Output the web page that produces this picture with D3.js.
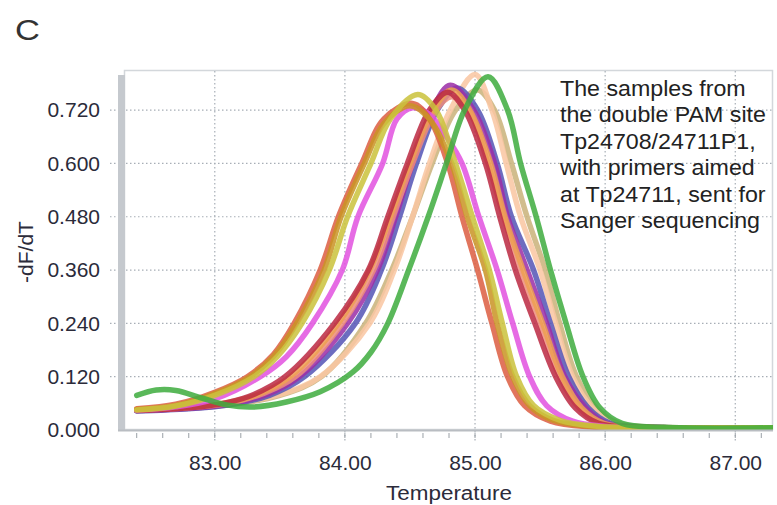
<!DOCTYPE html>
<html>
<head>
<meta charset="utf-8">
<script src="https://cdn.jsdelivr.net/npm/d3@7"></script>
<style>
  body { margin: 0; background: #fff; }
  svg { display: block; }
  text { font-family: "Liberation Sans", Arial, sans-serif; }
</style>
</head>
<body>
<svg id="chart" width="777" height="505"></svg>
<script>
// tick labels
var tempTicks = [83, 84, 85, 86, 87];
var dfTicks = [0, 0.12, 0.24, 0.36, 0.48, 0.6, 0.72];
var noteLines = ["The samples from", "the double PAM site", "Tp24708/24711P1,",
  "with primers aimed", "at Tp24711, sent for", "Sanger sequencing"];

// melt curves: [temperature, -dF/dT]
var tan = [[82.40,0.045],[82.80,0.049],[83.10,0.056],[83.50,0.078],[83.82,0.12],[84.16,0.24],[84.36,0.36],[84.52,0.48],[84.67,0.60],[84.85,0.72],[85.02,0.765],[85.15,0.72],[85.28,0.60],[85.40,0.48],[85.54,0.36],[85.65,0.24],[85.78,0.12],[85.93,0.05],[86.10,0.015],[86.45,0.006],[87.30,0.005]];
var peach = [[82.40,0.046],[82.80,0.050],[83.10,0.058],[83.50,0.080],[83.81,0.12],[84.19,0.24],[84.38,0.36],[84.52,0.48],[84.65,0.60],[84.81,0.72],[85.00,0.80],[85.13,0.72],[85.24,0.60],[85.35,0.48],[85.50,0.36],[85.62,0.24],[85.75,0.12],[85.90,0.05],[86.07,0.015],[86.40,0.006],[87.30,0.005]];
var blue = [[82.40,0.043],[82.80,0.048],[83.10,0.056],[83.42,0.078],[83.69,0.12],[84.08,0.24],[84.28,0.36],[84.42,0.48],[84.55,0.60],[84.71,0.72],[84.86,0.77],[85.02,0.72],[85.17,0.60],[85.28,0.48],[85.45,0.36],[85.58,0.24],[85.72,0.12],[85.87,0.05],[86.04,0.015],[86.40,0.006],[87.30,0.005]];
var purple = [[82.40,0.044],[82.80,0.049],[83.10,0.058],[83.40,0.080],[83.65,0.12],[84.02,0.24],[84.25,0.36],[84.39,0.48],[84.52,0.60],[84.67,0.72],[84.81,0.776],[84.99,0.72],[85.15,0.60],[85.25,0.48],[85.40,0.36],[85.55,0.24],[85.69,0.12],[85.85,0.05],[86.01,0.015],[86.35,0.006],[87.30,0.005]];
var salmon = [[82.40,0.045],[82.80,0.050],[83.10,0.060],[83.38,0.083],[83.62,0.12],[83.98,0.24],[84.22,0.36],[84.37,0.48],[84.52,0.60],[84.70,0.72],[84.82,0.75],[84.95,0.72],[85.10,0.60],[85.22,0.48],[85.35,0.36],[85.50,0.24],[85.65,0.12],[85.80,0.05],[85.96,0.015],[86.30,0.006],[87.30,0.005]];
var orange = [[82.40,0.046],[82.80,0.051],[83.10,0.062],[83.35,0.082],[83.58,0.12],[83.95,0.24],[84.19,0.36],[84.35,0.48],[84.50,0.60],[84.68,0.72],[84.82,0.765],[84.96,0.72],[85.12,0.60],[85.23,0.48],[85.37,0.36],[85.52,0.24],[85.67,0.12],[85.82,0.05],[85.99,0.015],[86.35,0.006],[87.30,0.005]];
var crimson = [[82.40,0.044],[82.80,0.050],[83.10,0.062],[83.30,0.080],[83.54,0.12],[83.92,0.24],[84.18,0.36],[84.33,0.48],[84.48,0.60],[84.65,0.72],[84.79,0.76],[84.92,0.72],[85.08,0.60],[85.19,0.48],[85.31,0.36],[85.46,0.24],[85.62,0.12],[85.77,0.05],[85.95,0.015],[86.30,0.006],[87.30,0.005]];
var magenta = [[82.40,0.045],[82.70,0.052],[83.00,0.070],[83.35,0.12],[83.55,0.165],[83.75,0.24],[83.98,0.36],[84.10,0.48],[84.29,0.60],[84.40,0.70],[84.52,0.725],[84.65,0.71],[84.78,0.66],[84.90,0.60],[85.03,0.48],[85.17,0.36],[85.29,0.24],[85.42,0.12],[85.55,0.055],[85.75,0.02],[86.00,0.008],[86.40,0.005],[87.30,0.005]];
var redorange = [[82.40,0.048],[82.70,0.058],[83.00,0.085],[83.25,0.12],[83.45,0.17],[83.61,0.24],[83.81,0.36],[83.95,0.48],[84.13,0.60],[84.30,0.70],[84.52,0.735],[84.65,0.70],[84.79,0.60],[84.90,0.48],[85.02,0.36],[85.13,0.24],[85.25,0.12],[85.38,0.055],[85.58,0.02],[85.90,0.007],[86.30,0.005],[87.30,0.005]];
var gold = [[82.40,0.046],[82.70,0.055],[83.00,0.082],[83.27,0.12],[83.45,0.165],[83.63,0.24],[83.84,0.36],[83.97,0.48],[84.15,0.60],[84.30,0.69],[84.50,0.73],[84.65,0.70],[84.82,0.60],[84.94,0.48],[85.08,0.36],[85.17,0.24],[85.29,0.12],[85.42,0.055],[85.60,0.022],[85.90,0.008],[86.30,0.005],[87.30,0.005]];
var yellow = [[82.40,0.045],[82.70,0.054],[83.00,0.078],[83.30,0.12],[83.48,0.165],[83.67,0.24],[83.88,0.36],[84.02,0.48],[84.20,0.60],[84.35,0.70],[84.56,0.755],[84.70,0.72],[84.85,0.60],[84.98,0.48],[85.11,0.36],[85.21,0.24],[85.32,0.12],[85.45,0.055],[85.65,0.022],[85.95,0.008],[86.30,0.005],[87.30,0.005]];
var green = [[82.40,0.078],[82.55,0.090],[82.70,0.089],[82.90,0.072],[83.10,0.056],[83.30,0.052],[83.55,0.063],[83.81,0.086],[84.06,0.13],[84.20,0.175],[84.33,0.24],[84.49,0.36],[84.64,0.48],[84.78,0.60],[84.92,0.72],[85.10,0.795],[85.25,0.72],[85.35,0.60],[85.47,0.48],[85.58,0.36],[85.70,0.24],[85.83,0.12],[85.96,0.05],[86.13,0.015],[86.45,0.006],[87.30,0.005]];

// draw order, back to front
var curves = [
  { values: tan, color: "#c9b27a" },
  { values: peach, color: "#f9c6a2" },
  { values: blue, color: "#5656b6" },
  { values: purple, color: "#9b2fa6" },
  { values: salmon, color: "#ee8c7c" },
  { values: orange, color: "#eea050" },
  { values: crimson, color: "#bb2a44" },
  { values: magenta, color: "#e254e0" },
  { values: redorange, color: "#dc5e42" },
  { values: gold, color: "#c99424" },
  { values: yellow, color: "#cbc33c" },
  { values: green, color: "#3fac3f" }
];

var svg = d3.select("#chart");
var plot = { left: 125, right: 773, top: 71, bottom: 430 };

var x = d3.scaleLinear().domain([82.31, 87.29]).range([plot.left, plot.right]);
var y = d3.scaleLinear().domain([0, 0.808]).range([plot.bottom, plot.top]);

// panel letter
svg.append("text")
  .attr("transform", "translate(15,40) scale(1.15,1)")
  .attr("font-size", 30)
  .attr("fill", "#333")
  .text("C");

// frame of the plot area
svg.append("rect")
  .attr("x", plot.left - 0.5).attr("y", plot.top - 0.5)
  .attr("width", plot.right - plot.left).attr("height", plot.bottom - plot.top)
  .attr("fill", "#fff")
  .attr("stroke", "#d3d7db")
  .attr("stroke-width", 1.5);

// dotted grid
var grid = svg.append("g")
  .attr("stroke", "#a7aeb6")
  .attr("stroke-width", 1.2)
  .attr("stroke-dasharray", "1.5,2.5");
grid.selectAll(".hgrid").data(dfTicks.filter(function (d) { return d > 0; }))
  .enter().append("line")
  .attr("x1", 110).attr("x2", plot.right)
  .attr("y1", function (d) { return y(d); })
  .attr("y2", function (d) { return y(d); });
grid.selectAll(".vgrid").data(tempTicks)
  .enter().append("line")
  .attr("x1", function (d) { return x(d); })
  .attr("x2", function (d) { return x(d); })
  .attr("y1", plot.top).attr("y2", plot.bottom + 13);

// minor ticks under the x axis, every 0.2 degree
var minorTicks = d3.range(82.4, 87.3, 0.2);
svg.append("g").selectAll("line").data(minorTicks).enter().append("line")
  .attr("x1", function (d) { return x(d); })
  .attr("x2", function (d) { return x(d); })
  .attr("y1", plot.bottom + 3).attr("y2", plot.bottom + 8)
  .attr("stroke", "#9aa0a6")
  .attr("stroke-width", 1);

// curves
var line = d3.line()
  .x(function (d) { return x(d[0]); })
  .y(function (d) { return y(d[1]); })
  .curve(d3.curveCatmullRom.alpha(0.5));

svg.append("clipPath").attr("id", "clip").append("rect")
  .attr("x", plot.left).attr("y", plot.top - 2)
  .attr("width", plot.right - plot.left).attr("height", plot.bottom - plot.top + 2);

var defs = svg.append("defs");
defs.append("filter").attr("id", "soft").append("feGaussianBlur").attr("stdDeviation", 0.6);

svg.append("g")
  .attr("clip-path", "url(#clip)")
  .selectAll("path").data(curves).enter().append("path")
  .attr("d", function (d) { return line(d.values); })
  .attr("fill", "none")
  .attr("stroke", function (d) { return d.color; })
  .attr("stroke-width", 5.5)
  .attr("stroke-opacity", 0.86)
  .attr("stroke-linecap", "round")
  .attr("stroke-linejoin", "round")
  .attr("filter", "url(#soft)");

// left grey bar and bottom axis line
svg.append("rect")
  .attr("x", 118).attr("y", 75)
  .attr("width", 7).attr("height", plot.bottom - 75)
  .attr("fill", "#c5c9ce");
svg.append("line")
  .attr("x1", 118).attr("x2", plot.right)
  .attr("y1", plot.bottom + 0.5).attr("y2", plot.bottom + 0.5)
  .attr("stroke", "#b9bdc2")
  .attr("stroke-width", 2);

// axes (labels only)
var yAxis = svg.append("g")
  .attr("transform", "translate(" + plot.left + ",0)")
  .call(d3.axisLeft(y).tickValues(dfTicks).tickFormat(d3.format(".3f")).tickSize(0).tickPadding(25));
var xAxis = svg.append("g")
  .attr("transform", "translate(0," + plot.bottom + ")")
  .call(d3.axisBottom(x).tickValues(tempTicks).tickFormat(d3.format(".2f")).tickSize(0).tickPadding(25));
[yAxis, xAxis].forEach(function (ax) {
  ax.select(".domain").remove();
  ax.selectAll("text")
    .attr("font-family", "Liberation Sans, Arial, sans-serif")
    .attr("font-size", 21)
    .attr("fill", "#2b2b3a");
});

// axis titles
svg.append("text")
  .attr("transform", "translate(449,500) scale(1.07,1)")
  .attr("text-anchor", "middle")
  .attr("font-size", 21)
  .attr("fill", "#2b2b3a")
  .text("Temperature");
svg.append("text")
  .attr("transform", "translate(33,252) rotate(-90)")
  .attr("text-anchor", "middle")
  .attr("font-size", 21)
  .attr("fill", "#2b2b3a")
  .text("-dF/dT");

// note in the top right corner
var note = svg.append("g")
  .attr("transform", "translate(560,0) scale(1.08,1)");
note.selectAll("text").data(noteLines).enter().append("text")
  .attr("x", 0)
  .attr("y", function (d, i) { return 96 + i * 26.4; })
  .attr("font-size", 21.5)
  .attr("fill", "#222")
  .text(function (d) { return d; });
</script>
</body>
</html>
